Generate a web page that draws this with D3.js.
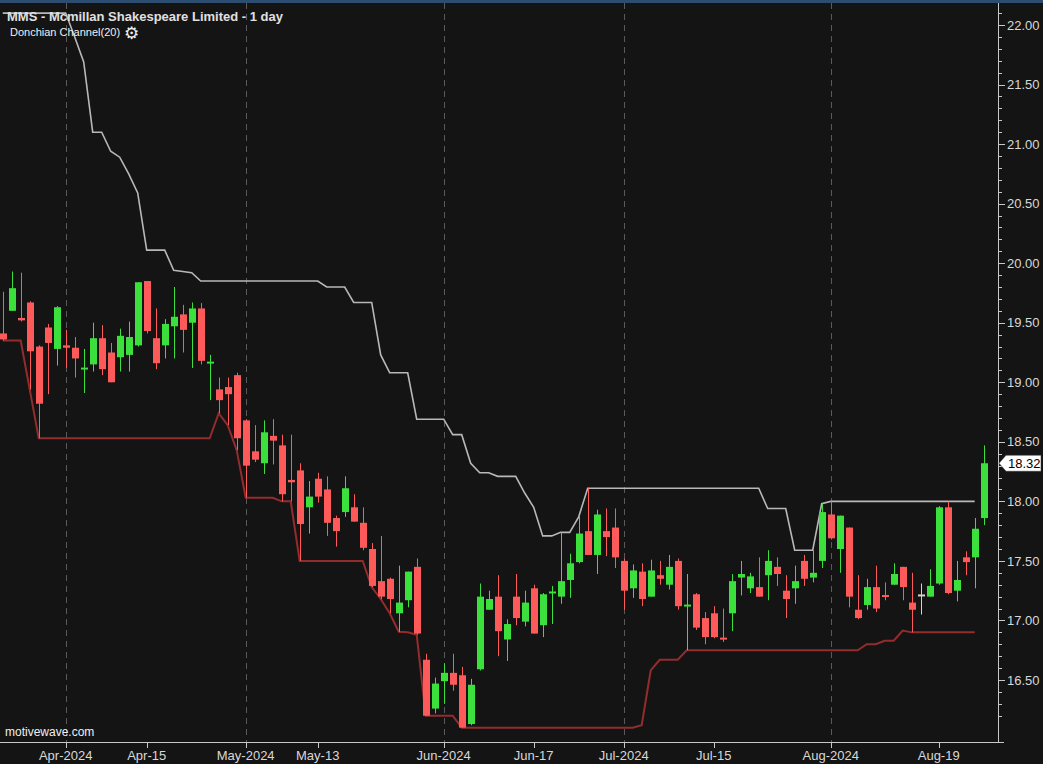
<!DOCTYPE html>
<html><head><meta charset="utf-8">
<script src="https://cdn.jsdelivr.net/npm/d3@7/dist/d3.min.js"></script>
<style>html,body{margin:0;padding:0;background:#141414;overflow:hidden}</style>
</head><body><svg id="c" width="1043" height="764"></svg>
<script>
// ---- data (daily candles, index 0..109) ----
const opens  = [19.41,19.60,19.54,19.67,19.30,19.46,19.28,19.31,19.29,19.11,
                19.15,19.37,19.25,19.21,19.23,19.31,19.85,19.37,19.31,19.47,
                19.57,19.50,19.62,19.16,18.94,18.96,19.06,18.68,18.42,18.32,
                18.55,18.47,18.18,18.26,17.95,18.19,18.10,17.86,17.91,17.95,
                17.82,17.60,17.33,17.35,17.06,17.17,17.45,16.67,16.26,16.49,
                16.56,16.54,16.13,16.59,17.09,17.20,16.84,17.20,16.99,17.27,
                16.96,17.23,17.20,17.34,17.49,17.75,17.55,17.75,17.78,17.50,
                17.27,17.41,17.20,17.38,17.30,17.50,17.12,17.22,17.02,17.06,
                16.855,17.06,17.36,17.27,17.28,17.38,17.45,17.25,17.27,17.50,
                17.36,17.50,17.89,17.60,17.78,17.09,17.13,17.28,17.21,17.30,
                17.45,17.15,17.21,17.20,17.31,17.95,17.25,17.53,17.53,17.86];
const highs  = [19.76,19.93,19.92,19.68,19.31,19.49,19.64,19.44,19.38,19.28,
                19.50,19.48,19.33,19.45,19.51,19.84,19.85,19.62,19.53,19.80,
                19.65,19.67,19.665,19.23,19.04,19.04,19.08,18.69,18.64,18.68,
                18.69,18.56,18.56,18.32,18.17,18.24,18.21,17.88,18.21,18.06,
                17.95,17.65,17.71,17.36,17.46,17.41,17.52,16.72,16.52,16.64,
                16.72,16.61,16.51,17.31,17.25,17.38,17.01,17.39,17.25,17.30,
                17.23,17.29,17.74,17.56,17.88,18.11,17.93,17.94,17.94,17.52,
                17.47,17.48,17.51,17.50,17.55,17.52,17.39,17.23,17.07,17.12,
                17.10,17.39,17.50,17.40,17.53,17.59,17.53,17.38,17.46,17.55,
                17.59,17.98,18.00,17.88,17.78,17.38,17.35,17.46,17.32,17.48,
                17.45,17.40,17.31,17.43,17.96,18.00,17.50,17.58,17.86,18.47];
const lows   = [19.35,19.60,19.51,18.94,18.53,18.90,19.14,19.12,19.04,18.91,
                19.09,19.06,19.00,19.09,19.09,19.30,19.41,19.11,19.20,19.20,
                19.25,19.12,19.15,18.85,18.74,18.64,18.43,18.03,18.33,18.23,
                18.31,18.00,18.00,17.50,17.73,17.99,17.71,17.62,17.87,17.83,
                17.59,17.28,17.18,17.06,16.905,17.11,16.88,16.20,16.22,16.30,
                16.41,16.10,16.12,16.58,17.09,16.70,16.66,16.96,16.95,16.89,
                16.86,16.97,17.14,17.19,17.48,17.55,17.39,17.54,17.44,17.09,
                17.19,17.12,17.20,17.30,17.26,17.09,16.75,16.92,16.80,16.85,
                16.82,16.91,17.21,17.23,17.20,17.17,17.29,17.02,17.14,17.29,
                17.32,17.44,17.68,17.40,17.11,17.01,17.09,17.07,17.17,17.30,
                17.17,16.90,17.05,17.20,17.30,17.22,17.16,17.38,17.27,17.80];
const closes = [19.36,19.79,19.52,19.26,18.82,19.33,19.63,19.29,19.20,19.12,
                19.37,19.11,19.00,19.39,19.38,19.84,19.43,19.16,19.49,19.55,
                19.44,19.62,19.18,19.17,18.85,18.90,18.53,18.30,18.35,18.58,
                18.51,18.06,18.16,17.81,18.04,18.04,17.82,17.75,18.11,17.83,
                17.61,17.29,17.20,17.18,17.15,17.41,16.89,16.20,16.47,16.56,
                16.46,16.10,16.46,17.20,17.18,16.91,16.97,17.02,17.15,16.89,
                17.22,17.24,17.33,17.48,17.73,17.55,17.89,17.70,17.53,17.25,
                17.42,17.18,17.42,17.35,17.45,17.12,17.13,16.94,16.86,16.86,
                16.84,17.33,17.39,17.37,17.20,17.50,17.39,17.18,17.33,17.35,
                17.40,17.91,17.69,17.88,17.20,17.02,17.28,17.10,17.20,17.39,
                17.28,17.09,17.21,17.29,17.95,17.23,17.34,17.49,17.77,18.32];

// Donchian Channel(20) as plotted (index 0..108)
const upperBand = [22.10,22.10,22.10,22.10,22.10,22.10,22.10,22.10,21.90,21.69,
                   21.10,21.10,20.94,20.89,20.75,20.59,20.11,20.11,20.11,19.94,
                   19.93,19.92,19.85,19.85,19.85,19.85,19.85,19.85,19.85,19.85,
                   19.85,19.85,19.85,19.85,19.85,19.85,19.80,19.80,19.80,19.67,
                   19.67,19.67,19.23,19.08,19.08,19.08,18.69,18.69,18.69,18.69,
                   18.56,18.56,18.32,18.24,18.24,18.21,18.21,18.21,18.07,17.95,
                   17.71,17.71,17.74,17.74,17.87,18.11,18.11,18.11,18.11,18.11,
                   18.11,18.11,18.11,18.11,18.11,18.11,18.11,18.11,18.11,18.11,
                   18.11,18.11,18.11,18.11,18.11,17.94,17.94,17.94,17.59,17.59,
                   17.59,17.98,18.00,18.00,18.00,18.00,18.00,18.00,18.00,18.00,
                   18.00,18.00,18.00,18.00,18.00,18.00,18.00,18.00,18.00];
const lowerBand = [19.35,19.35,19.35,18.94,18.53,18.53,18.53,18.53,18.53,18.53,
                   18.53,18.53,18.53,18.53,18.53,18.53,18.53,18.53,18.53,18.53,
                   18.53,18.53,18.53,18.53,18.74,18.64,18.43,18.03,18.03,18.03,
                   18.03,18.00,18.00,17.50,17.50,17.50,17.50,17.50,17.50,17.50,
                   17.50,17.28,17.18,17.06,16.905,16.90,16.88,16.20,16.20,16.20,
                   16.20,16.10,16.10,16.10,16.10,16.10,16.10,16.10,16.10,16.10,
                   16.10,16.10,16.10,16.10,16.10,16.10,16.10,16.10,16.10,16.10,
                   16.10,16.12,16.58,16.67,16.67,16.67,16.75,16.75,16.75,16.75,
                   16.75,16.75,16.75,16.75,16.75,16.75,16.75,16.75,16.75,16.75,
                   16.75,16.75,16.75,16.75,16.75,16.75,16.80,16.80,16.83,16.83,
                   16.915,16.90,16.90,16.90,16.90,16.90,16.90,16.90,16.90];

const xTickIdx    = [7, 16, 27, 35, 49, 59, 69, 79, 92, 104];
const xTickLabels = ["Apr-2024","Apr-15","May-2024","May-13","Jun-2024","Jun-17","Jul-2024","Jul-15","Aug-2024","Aug-19"];
const monthStartIdx = [7, 27, 49, 69, 92];
const yTickValues = [16.5,17.0,17.5,18.0,18.5,19.0,19.5,20.0,20.5,21.0,21.5,22.0];
const lastPrice = 18.32;
const titleText = "MMS - Mcmillan Shakespeare Limited - 1 day";
const studyText = "Donchian Channel(20)";

// ---- layout ----
const W = 1043, H = 764;
const plot = {left: 0, right: 998, top: 3, bottom: 742};
const FONT = "'Liberation Sans', Arial, sans-serif";
const GREEN = "#3ce03c", RED = "#ff5a5a", NEUTRAL = "#d9d6bd";

const svg = d3.select("#c");
svg.append("rect").attr("width", W).attr("height", H).attr("fill", "#141414");
svg.append("rect").attr("x", 0).attr("y", 0).attr("width", W).attr("height", 3).attr("fill", "#2d4d70");

const x = d3.scaleLinear().domain([0, 109]).range([2.7, 983.7]);
const y = d3.scaleLinear().domain([16.5, 22.0]).range([680, 25]);

svg.append("clipPath").attr("id", "pc").append("rect")
  .attr("x", plot.left).attr("y", plot.top)
  .attr("width", plot.right - plot.left).attr("height", plot.bottom - plot.top);

const g = svg.append("g").attr("clip-path", "url(#pc)");

// month dashed grid lines
g.selectAll("line.grid").data(monthStartIdx).join("line")
  .attr("x1", d => Math.round(x(d)) + 0.5).attr("x2", d => Math.round(x(d)) + 0.5)
  .attr("y1", plot.top).attr("y2", plot.bottom)
  .attr("stroke", "#5a5a5a").attr("stroke-width", 1).attr("stroke-dasharray", "6,5");

// Donchian lines
const line = d3.line().x((d, i) => x(i)).y(d => y(d));
g.append("path").datum(lowerBand).attr("d", line)
  .attr("fill", "none").attr("stroke", "#932c2c").attr("stroke-width", 2);
g.append("path").datum(upperBand).attr("d", line)
  .attr("fill", "none").attr("stroke", "#b8b8b8").attr("stroke-width", 1.6);

// candles
const idx = d3.range(opens.length);
const colorOf = i => closes[i] > opens[i] ? GREEN : (closes[i] < opens[i] ? RED : NEUTRAL);
const bw = 7;
const cg = g.append("g");
cg.selectAll("line.wick").data(idx).join("line")
  .attr("x1", i => Math.round(x(i)) + 0.5).attr("x2", i => Math.round(x(i)) + 0.5)
  .attr("y1", i => y(highs[i])).attr("y2", i => y(lows[i]))
  .attr("stroke", colorOf).attr("stroke-width", 1);
cg.selectAll("rect.body").data(idx).join("rect")
  .attr("x", i => Math.round(x(i)) + 0.5 - bw / 2)
  .attr("width", bw)
  .attr("y", i => { const t = y(Math.max(opens[i], closes[i])); const b = y(Math.min(opens[i], closes[i])); return (b - t < 2) ? (t + b) / 2 - 1 : t; })
  .attr("height", i => { const t = y(Math.max(opens[i], closes[i])); const b = y(Math.min(opens[i], closes[i])); return Math.max(2, b - t); })
  .attr("fill", colorOf);

// axes lines
svg.append("line").attr("x1", plot.right + 0.5).attr("x2", plot.right + 0.5)
  .attr("y1", 3).attr("y2", plot.bottom + 0.5).attr("stroke", "#c8c8c8");
svg.append("line").attr("x1", 0).attr("x2", plot.right + 6)
  .attr("y1", plot.bottom + 0.5).attr("y2", plot.bottom + 0.5).attr("stroke", "#c8c8c8");

// y ticks: major + minor
const minor = d3.range(16.2, 22.35, 0.1).map(v => +v.toFixed(2)).filter(v => y(v) > 3 && y(v) < plot.bottom);
svg.selectAll("line.ymin").data(minor).join("line")
  .attr("x1", plot.right).attr("x2", plot.right + 4)
  .attr("y1", d => Math.round(y(d)) + 0.5).attr("y2", d => Math.round(y(d)) + 0.5)
  .attr("stroke", "#c8c8c8");
svg.selectAll("line.ymaj").data(yTickValues).join("line")
  .attr("x1", plot.right).attr("x2", plot.right + 7)
  .attr("y1", d => Math.round(y(d)) + 0.5).attr("y2", d => Math.round(y(d)) + 0.5)
  .attr("stroke", "#c8c8c8");
svg.selectAll("text.ylab").data(yTickValues).join("text")
  .attr("x", 1007).attr("y", d => y(d)).attr("dy", "0.36em")
  .attr("fill", "#d8d8d8").attr("font-family", FONT).attr("font-size", 13)
  .text(d => d.toFixed(2));

// x ticks
svg.selectAll("line.xt").data(xTickIdx).join("line")
  .attr("x1", d => Math.round(x(d)) + 0.5).attr("x2", d => Math.round(x(d)) + 0.5)
  .attr("y1", plot.bottom).attr("y2", plot.bottom + 6).attr("stroke", "#c8c8c8");
svg.selectAll("text.xl").data(xTickIdx).join("text")
  .attr("x", d => x(d)).attr("y", 755).attr("dy", "0.36em").attr("text-anchor", "middle")
  .attr("fill", "#d8d8d8").attr("font-family", FONT).attr("font-size", 13)
  .text((d, i) => xTickLabels[i]);

// last price tag
const py = y(lastPrice);
svg.append("path")
  .attr("d", `M${plot.right + 1},${py} L${plot.right + 8},${py - 8} L1041,${py - 8} L1041,${py + 8} L${plot.right + 8},${py + 8} Z`)
  .attr("fill", "#ffffff").attr("stroke", "#333").attr("stroke-width", 0.5);
svg.append("text").attr("x", 1008).attr("y", py).attr("dy", "0.36em")
  .attr("fill", "#000").attr("font-family", FONT).attr("font-size", 13).text(lastPrice.toFixed(2));

// titles
svg.append("text").attr("x", 7).attr("y", 21)
  .attr("fill", "#e0e0e0").attr("font-family", FONT).attr("font-size", 13).attr("font-weight", "bold")
  .text(titleText);
svg.append("text").attr("x", 10).attr("y", 36)
  .attr("fill", "#f0f0f0").attr("font-family", FONT).attr("font-size", 11)
  .text(studyText);
svg.append("text").attr("x", 124).attr("y", 39)
  .attr("fill", "#f0f0f0").attr("font-family", "'DejaVu Sans', sans-serif").attr("font-size", 17)
  .text("\u2699");
svg.append("text").attr("x", 5).attr("y", 736)
  .attr("fill", "#f0f0f0").attr("font-family", FONT).attr("font-size", 12)
  .text("motivewave.com");
</script></body></html>
